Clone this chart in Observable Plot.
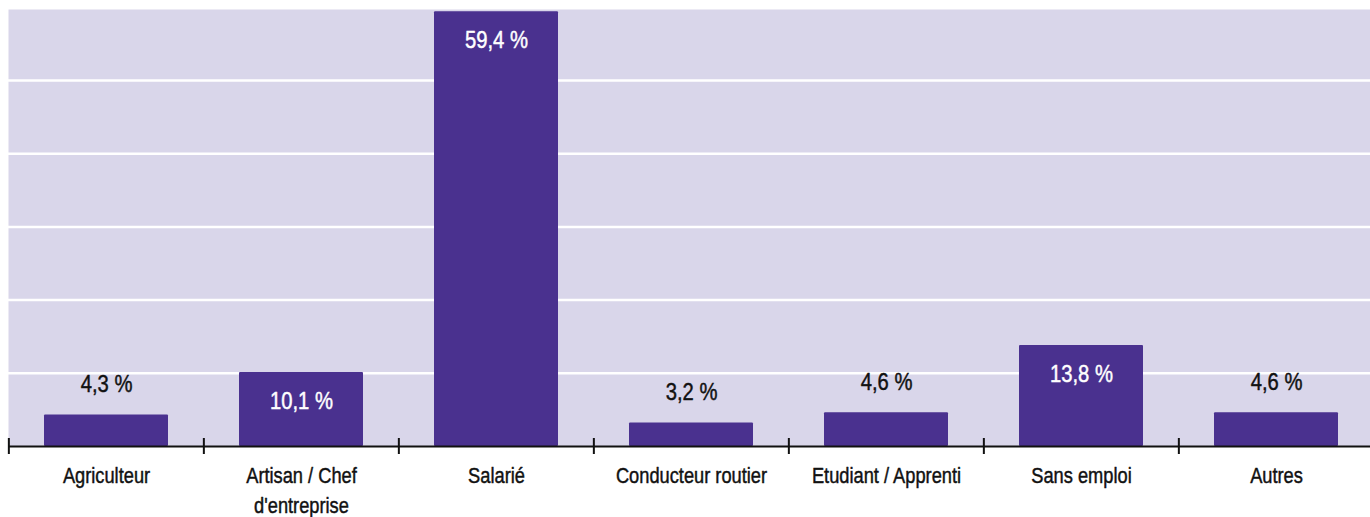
<!DOCTYPE html>
<html>
<head>
<meta charset="utf-8">
<script src="https://cdn.jsdelivr.net/npm/d3@7"></script>
<script src="https://cdn.jsdelivr.net/npm/@observablehq/plot@0.6"></script>
<style>
  html, body { margin: 0; padding: 0; background: #ffffff; overflow: hidden; }
  #chart svg { max-width: none !important; display: block; }
</style>
</head>
<body>
<div id="chart"></div>
<script>
const categories = ["Agriculteur", "Artisan / Chef d'entreprise", "Salarié", "Conducteur routier", "Etudiant / Apprenti", "Sans emploi", "Autres"];
const tickLabels = ["Agriculteur", "Artisan / Chef\nd'entreprise", "Salarié", "Conducteur routier", "Etudiant / Apprenti", "Sans emploi", "Autres"];
const values = [4.3, 10.1, 59.4, 3.2, 4.6, 13.8, 4.6];
const gridValues = [10, 20, 30, 40, 50];

const data = categories.map((c, i) => ({category: c, label: tickLabels[i], value: values[i],
  text: values[i].toFixed(1).replace(".", ",") + " %", inside: values[i] >= 10}));

const W = 1375, H = 517, mL = 8, mR = 0, mT = 9, mB = 71;
const step = (W - mL - mR) / categories.length;
const font = "'Liberation Sans', Arial, sans-serif";
const barColor = "#4a318f";

const chart = Plot.plot({
  width: W,
  height: H,
  marginLeft: mL,
  marginRight: mR,
  marginTop: mT,
  marginBottom: mB,
  style: {fontFamily: font, background: "white"},
  x: {domain: categories, paddingInner: 0.363, paddingOuter: 0.1815, axis: null},
  y: {domain: [0, 59.7], axis: null},
  marks: [
    Plot.frame({fill: "#d9d6ea", stroke: null}),
    Plot.ruleY(gridValues, {stroke: "white", strokeWidth: 2.5}),
    Plot.barY(data, {x: "category", y: "value", fill: barColor, rx: 1}),
    Plot.ruleY([0], {stroke: "#111", strokeWidth: 2}),
    Plot.ruleX(data, {x: "category", y1: 0, y2: 0, dx: -step / 2, insetTop: -8, insetBottom: -8, stroke: "#111", strokeWidth: 2}),
    Plot.text(data.filter(d => d.inside), {x: "category", y: "value", text: "text", dy: 29, fill: "white", stroke: "white", strokeWidth: 0.45, fontSize: 23, lineAnchor: "middle", ariaDescription: "value-in"}),
    Plot.text(data.filter(d => !d.inside), {x: "category", y: "value", text: "text", dy: -30, fill: "#111", stroke: "#111", strokeWidth: 0.45, fontSize: 23, lineAnchor: "middle", ariaDescription: "value-out"}),
    Plot.text(data, {x: "category", text: "label", frameAnchor: "bottom", dy: 16.2, lineAnchor: "top", lineHeight: 1.33, fontSize: 22, fill: "#111", stroke: "#111", strokeWidth: 0.45, ariaDescription: "category"})
  ]
});

// condense the sans-serif glyphs horizontally around each text anchor
const scales = {"value-in": 0.88, "value-out": 0.88, "category": 0.83};
chart.querySelectorAll("g[aria-description]").forEach(g => {
  const s = scales[g.getAttribute("aria-description")];
  if (!s) return;
  g.querySelectorAll("text").forEach(t => {
    const tr = t.getAttribute("transform") || "";
    t.setAttribute("transform", tr + ` scale(${s},1)`);
  });
});
document.getElementById("chart").appendChild(chart);
</script>
</body>
</html>
